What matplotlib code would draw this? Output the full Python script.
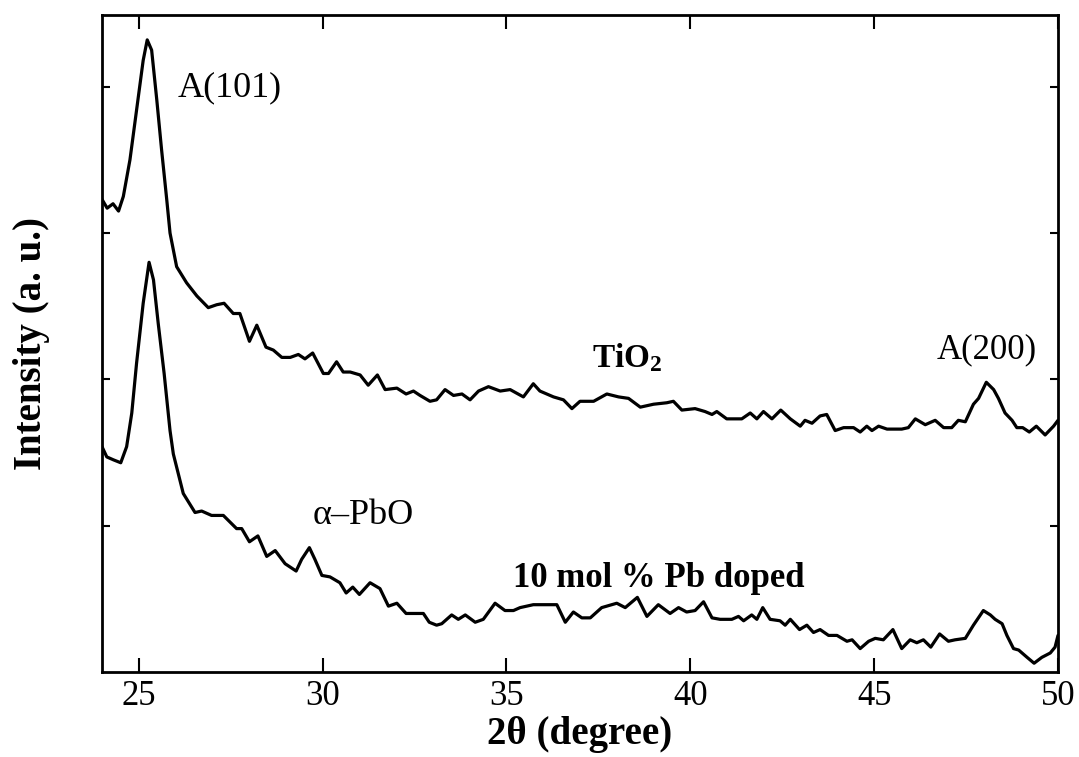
import matplotlib
matplotlib.use("Agg")
import matplotlib.pyplot as plt
import numpy as np

plt.rcParams['font.family'] = ['Liberation Serif', 'DejaVu Serif']
plt.rcParams['mathtext.fontset'] = 'custom'
plt.rcParams['mathtext.rm'] = 'Liberation Serif'
plt.rcParams['mathtext.bf'] = 'Liberation Serif:bold'
plt.rcParams['mathtext.it'] = 'Liberation Serif:italic'

# XRD pattern, pure TiO2 (upper trace, offset)
tio2_2theta = [24.00, 24.14, 24.30, 24.45, 24.58, 24.76, 24.94, 25.12, 25.23, 25.35,
               25.49, 25.62, 25.76, 25.85, 26.03, 26.30, 26.58, 26.89, 27.12, 27.32,
               27.57, 27.75, 28.01, 28.21, 28.46, 28.66, 28.89, 29.12, 29.34, 29.52,
               29.73, 30.02, 30.16, 30.38, 30.56, 30.75, 31.02, 31.24, 31.49, 31.70,
               32.02, 32.27, 32.47, 32.65, 32.92, 33.10, 33.33, 33.56, 33.79, 34.01,
               34.24, 34.51, 34.83, 35.10, 35.46, 35.73, 35.91, 36.28, 36.55, 36.78,
               37.00, 37.37, 37.73, 38.05, 38.32, 38.64, 39.00, 39.36, 39.54, 39.77,
               40.13, 40.40, 40.59, 40.72, 40.99, 41.17, 41.40, 41.63, 41.81, 41.99,
               42.22, 42.46, 42.72, 42.99, 43.12, 43.31, 43.53, 43.71, 43.94, 44.17,
               44.44, 44.62, 44.80, 44.94, 45.12, 45.35, 45.75, 45.93, 46.12, 46.39,
               46.66, 46.89, 47.11, 47.29, 47.48, 47.70, 47.84, 48.05, 48.25, 48.38,
               48.56, 48.75, 48.88, 49.04, 49.22, 49.41, 49.65, 49.88, 50.00]
tio2_int = [3.23, 3.17, 3.20, 3.15, 3.25, 3.50, 3.84, 4.18, 4.32, 4.25,
            3.91, 3.57, 3.23, 3.00, 2.77, 2.66, 2.57, 2.49, 2.51, 2.52,
            2.45, 2.45, 2.26, 2.37, 2.22, 2.20, 2.15, 2.15, 2.17, 2.14,
            2.18, 2.04, 2.04, 2.12, 2.05, 2.05, 2.03, 1.96, 2.03, 1.93,
            1.94, 1.90, 1.92, 1.89, 1.85, 1.86, 1.93, 1.89, 1.90, 1.86,
            1.92, 1.95, 1.92, 1.93, 1.88, 1.97, 1.92, 1.88, 1.86, 1.80,
            1.85, 1.85, 1.90, 1.88, 1.87, 1.81, 1.83, 1.84, 1.85, 1.79,
            1.80, 1.78, 1.76, 1.78, 1.73, 1.73, 1.73, 1.77, 1.73, 1.78,
            1.73, 1.79, 1.73, 1.68, 1.72, 1.70, 1.75, 1.76, 1.65, 1.67,
            1.67, 1.64, 1.68, 1.65, 1.68, 1.66, 1.66, 1.67, 1.73, 1.69,
            1.72, 1.67, 1.67, 1.72, 1.71, 1.83, 1.87, 1.98, 1.93, 1.87,
            1.77, 1.72, 1.67, 1.67, 1.64, 1.68, 1.62, 1.68, 1.72]

# XRD pattern, 10 mol % Pb doped TiO2 (lower trace)
pb_2theta = [24.00, 24.13, 24.31, 24.51, 24.67, 24.81, 24.94, 25.12, 25.28, 25.40,
             25.53, 25.69, 25.85, 25.94, 26.21, 26.53, 26.71, 26.98, 27.30, 27.66,
             27.80, 28.01, 28.24, 28.48, 28.71, 28.98, 29.28, 29.43, 29.64, 29.79,
             29.98, 30.20, 30.47, 30.64, 30.82, 31.00, 31.29, 31.56, 31.79, 32.02,
             32.27, 32.56, 32.74, 32.90, 33.10, 33.24, 33.51, 33.69, 33.88, 34.15,
             34.37, 34.69, 34.96, 35.19, 35.37, 35.73, 36.37, 36.60, 36.82, 37.05,
             37.28, 37.59, 38.00, 38.23, 38.56, 38.82, 39.13, 39.45, 39.68, 39.90,
             40.13, 40.36, 40.59, 40.81, 41.13, 41.31, 41.45, 41.67, 41.81, 41.97,
             42.17, 42.44, 42.58, 42.72, 42.97, 43.17, 43.35, 43.53, 43.76, 43.99,
             44.26, 44.40, 44.62, 44.85, 45.03, 45.25, 45.51, 45.75, 45.98, 46.16,
             46.34, 46.54, 46.78, 47.02, 47.20, 47.48, 47.70, 47.97, 48.16, 48.29,
             48.48, 48.61, 48.79, 48.93, 49.16, 49.35, 49.56, 49.79, 49.92, 50.00]
pb_int = [1.54, 1.47, 1.45, 1.43, 1.54, 1.77, 2.11, 2.52, 2.80, 2.68,
          2.38, 2.04, 1.65, 1.49, 1.22, 1.09, 1.10, 1.07, 1.07, 0.98,
          0.98, 0.89, 0.93, 0.79, 0.83, 0.74, 0.69, 0.77, 0.85, 0.77,
          0.66, 0.65, 0.61, 0.54, 0.58, 0.53, 0.61, 0.57, 0.45, 0.47,
          0.40, 0.40, 0.40, 0.34, 0.32, 0.33, 0.39, 0.36, 0.39, 0.34,
          0.36, 0.47, 0.42, 0.42, 0.44, 0.46, 0.46, 0.34, 0.41, 0.37,
          0.37, 0.44, 0.47, 0.44, 0.51, 0.38, 0.46, 0.40, 0.44, 0.41,
          0.42, 0.48, 0.37, 0.36, 0.36, 0.38, 0.35, 0.39, 0.36, 0.44,
          0.36, 0.35, 0.32, 0.36, 0.29, 0.32, 0.27, 0.29, 0.25, 0.25,
          0.21, 0.22, 0.16, 0.21, 0.23, 0.22, 0.29, 0.16, 0.22, 0.20,
          0.22, 0.17, 0.26, 0.21, 0.22, 0.23, 0.32, 0.42, 0.39, 0.36,
          0.33, 0.25, 0.16, 0.15, 0.10, 0.06, 0.10, 0.13, 0.17, 0.25]

x_ticks = [25, 30, 35, 40, 45, 50]
y_ticks = [1, 2, 3, 4]

fig = plt.figure(figsize=(10.79, 7.57), dpi=100)
ax = fig.add_axes([102 / 1079, 1 - 672 / 757, 956 / 1079, 657 / 757])

ax.plot(tio2_2theta, tio2_int, color='black', lw=2.3,
        solid_joinstyle='round', solid_capstyle='round')
ax.plot(pb_2theta, pb_int, color='black', lw=2.3,
        solid_joinstyle='round', solid_capstyle='round')

ax.set_xlim(24, 50)
ax.set_ylim(0, 4.49)
ax.set_xticks(x_ticks)
ax.set_yticks(y_ticks)
ax.set_yticklabels([])
ax.tick_params(axis='x', direction='in', length=10, width=1.5, top=True,
               labelsize=25, pad=6)
ax.tick_params(axis='y', direction='in', length=6, width=1.5, right=True)
for sp in ax.spines.values():
    sp.set_linewidth(2)

ax.set_xlabel('2θ (degree)', fontsize=28, fontweight='bold', labelpad=2)
ax.set_ylabel('Intensity (a. u.)', fontsize=28, fontweight='bold', labelpad=34)

ax.text(27.48, 3.99, 'A(101)', fontsize=26, ha='center', va='center')
ax.text(48.05, 2.20, 'A(200)', fontsize=25, ha='center', va='center')
ax.text(38.28, 2.15, r'TiO$_\mathbf{2}$', fontsize=24, fontweight='bold',
        ha='center', va='center')
ax.text(31.10, 1.07, 'α–PbO', fontsize=26, ha='center', va='center')
ax.text(39.15, 0.64, '10 mol % Pb doped', fontsize=25, fontweight='bold',
        ha='center', va='center')

plt.savefig('out.png', dpi=100)
